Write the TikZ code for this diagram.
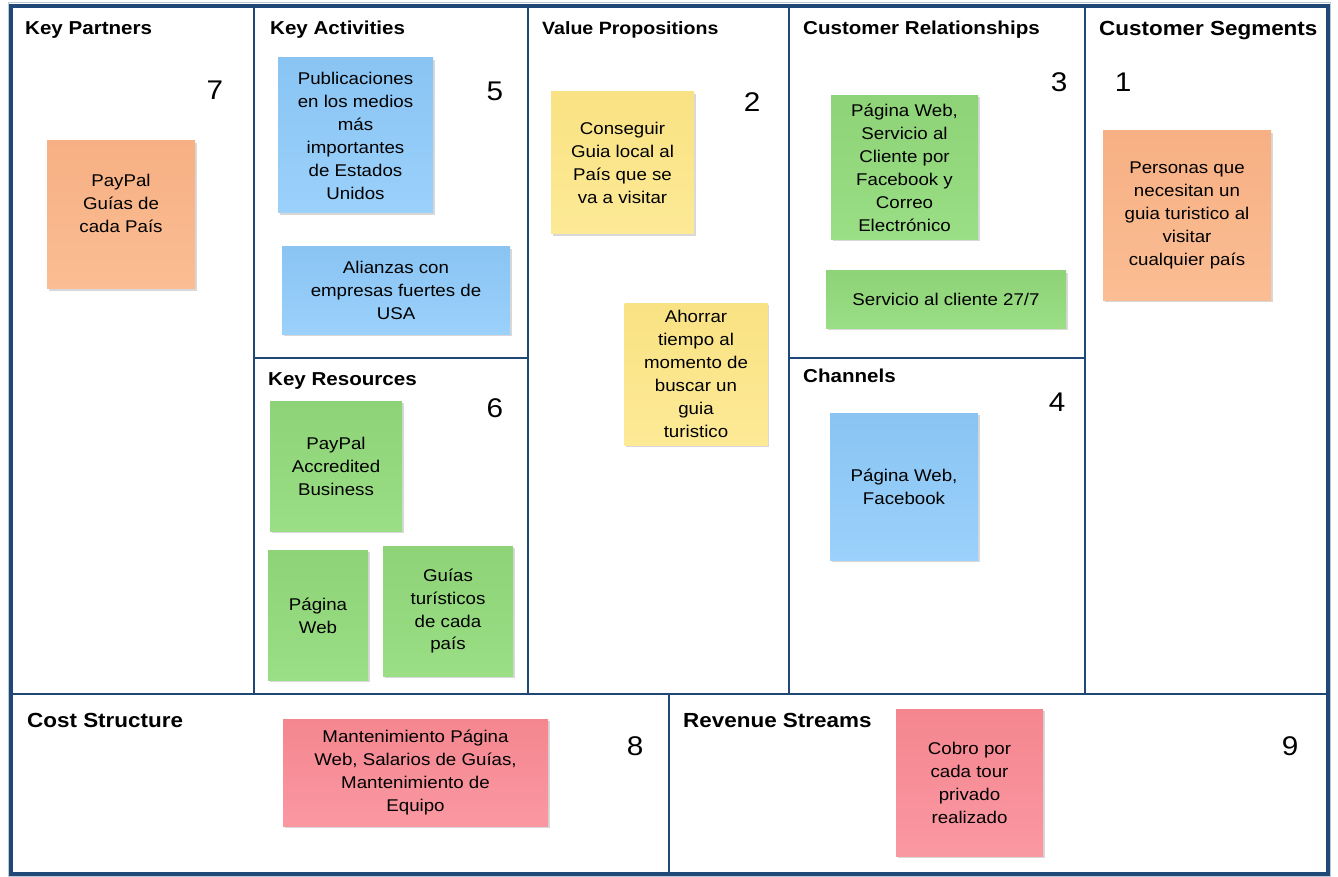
\documentclass[tikz,border=0pt]{standalone}
\usepackage{fontspec}
\setmainfont{Liberation Sans}[FakeStretch=1.1]
\usetikzlibrary{shadows}

\definecolor{framec}{HTML}{1F4876}
\definecolor{blueA}{HTML}{89C4F3}\definecolor{blueB}{HTML}{9BD1FB}
\definecolor{greenA}{HTML}{8ED377}\definecolor{greenB}{HTML}{9ADE85}
\definecolor{orangeA}{HTML}{F6B083}\definecolor{orangeB}{HTML}{FBBD93}
\definecolor{yellowA}{HTML}{F9E283}\definecolor{yellowB}{HTML}{FDEA96}
\definecolor{pinkA}{HTML}{F4868F}\definecolor{pinkB}{HTML}{FA98A2}

\newcommand\notefont{\fontsize{17}{23}\selectfont}
\newcommand\titlefont{\bfseries\fontsize{18.7}{22}\selectfont}
\newcommand\bigtitlefont{\bfseries\fontsize{20.4}{24}\selectfont}
\newcommand\numfont{\fontsize{27}{30}\selectfont}

\begin{document}
\begin{tikzpicture}[x=1pt,y=-1pt,
  grid line/.style={draw=framec, line width=2.6pt},
  outer line/.style={draw=framec, line width=3.6pt},
  blocktitle/.style={anchor=base west, inner sep=0pt, font=\titlefont},
  blocknum/.style={inner sep=0pt, font=\numfont},
  note/.style={align=center, inner sep=2pt, font=\notefont,
    drop shadow={shadow xshift=1.8pt, shadow yshift=-1.8pt, opacity=0.3}},
  bluenote/.style={note, top color=blueA, bottom color=blueB},
  greennote/.style={note, top color=greenA, bottom color=greenB},
  orangenote/.style={note, top color=orangeA, bottom color=orangeB},
  yellownote/.style={note, top color=yellowA, bottom color=yellowB},
  pinknote/.style={note, top color=pinkA, bottom color=pinkB},
  sz/.style n args={2}{minimum width=#1pt, minimum height=#2pt}
]
\useasboundingbox[fill=white] (0,0) rectangle (1338,877);

% canvas grid
\draw[framec!30, line width=1pt] (8,3) rectangle (1330.5,876.5);
\draw[grid line] (254,6) -- (254,694);
\draw[grid line] (528,6) -- (528,694);
\draw[grid line] (789,6) -- (789,694);
\draw[grid line] (1085,6) -- (1085,694);
\draw[grid line] (254,358) -- (528,358);
\draw[grid line] (789,358) -- (1085,358);
\draw[grid line] (11,694) -- (1328,694);
\draw[grid line] (669,694) -- (669,874);
\draw[outer line] (11,6) rectangle (1328,874);

% block titles
\node[blocktitle] (tKP) at (25,35) {Key Partners};
\node[blocktitle] (tKA) at (270,35) {Key Activities};
\node[blocktitle, font=\bfseries\fontsize{17.8}{22}\selectfont] (tVP) at (542,35) {Value Propositions};
\node[blocktitle] (tCR) at (803,35) {Customer Relationships};
\node[blocktitle, font=\bigtitlefont] (tCS) at (1099,36) {Customer Segments};
\node[blocktitle] (tKR) at (268,385) {Key Resources};
\node[blocktitle] (tCH) at (803,382) {Channels};
\node[blocktitle, font=\bigtitlefont] (tCO) at (27,727) {Cost Structure};
\node[blocktitle, font=\bigtitlefont] (tRS) at (683,727) {Revenue Streams};

% block numbers
\node[blocknum] (n7) at (215,90) {7};
\node[blocknum] (n5) at (495,91) {5};
\node[blocknum] (n2) at (752,102) {2};
\node[blocknum] (n3) at (1059,82) {3};
\node[blocknum] (n1) at (1123,82) {1};
\node[blocknum] (n6) at (495,408) {6};
\node[blocknum] (n4) at (1057,402) {4};
\node[blocknum] (n8) at (635,746) {8};
\node[blocknum] (n9) at (1290,746) {9};

% sticky notes
\node[orangenote, sz={148}{148}, text depth=24pt] (kp) at (121,215) {PayPal\\Guías de\\cada País};

\node[bluenote, sz={155}{155}] (ka1) at (355.5,135.5)
  {Publicaciones\\en los medios\\más\\importantes\\de Estados\\Unidos};
\node[bluenote, sz={228}{87}] (ka2) at (396,290.5)
  {Alianzas con\\empresas fuertes de\\USA};

\node[greennote, sz={132}{130}] (kr1) at (336,466) {PayPal\\Accredited\\Business};
\node[greennote, sz={100}{130}] (kr2) at (318,615.5) {Página\\Web};
\node[greennote, sz={130}{130}] (kr3) at (448,611) {Guías\\turísticos\\de cada\\país};

\node[yellownote, sz={143}{142}] (vp1) at (622.5,163) {Conseguir\\Guia local al\\País que se\\va a visitar};
\node[yellownote, sz={143}{142}] (vp2) at (696,374) {Ahorrar\\tiempo al\\momento de\\buscar un\\guia\\turistico};

\node[greennote, sz={147}{144}] (cr1) at (904.5,167.5)
  {Página Web,\\Servicio al\\Cliente por\\Facebook y\\Correo\\Electrónico};
\node[greennote, sz={240}{57}] (cr2) at (946,299.5) {Servicio al cliente 27/7};

\node[bluenote, sz={148}{147}] (ch1) at (904,486.5) {Página Web,\\Facebook};

\node[orangenote, sz={168}{169}] (cs1) at (1187,215.5)
  {Personas que\\necesitan un\\guia turistico al\\visitar\\cualquier país};

\node[pinknote, sz={265}{107}] (co1) at (415.5,772.5)
  {Mantenimiento Página\\Web, Salarios de Guías,\\Mantenimiento de\\Equipo};
\node[pinknote, sz={147}{147}] (rs1) at (969.5,782.5)
  {Cobro por\\cada tour\\privado\\realizado};
\end{tikzpicture}
\end{document}
